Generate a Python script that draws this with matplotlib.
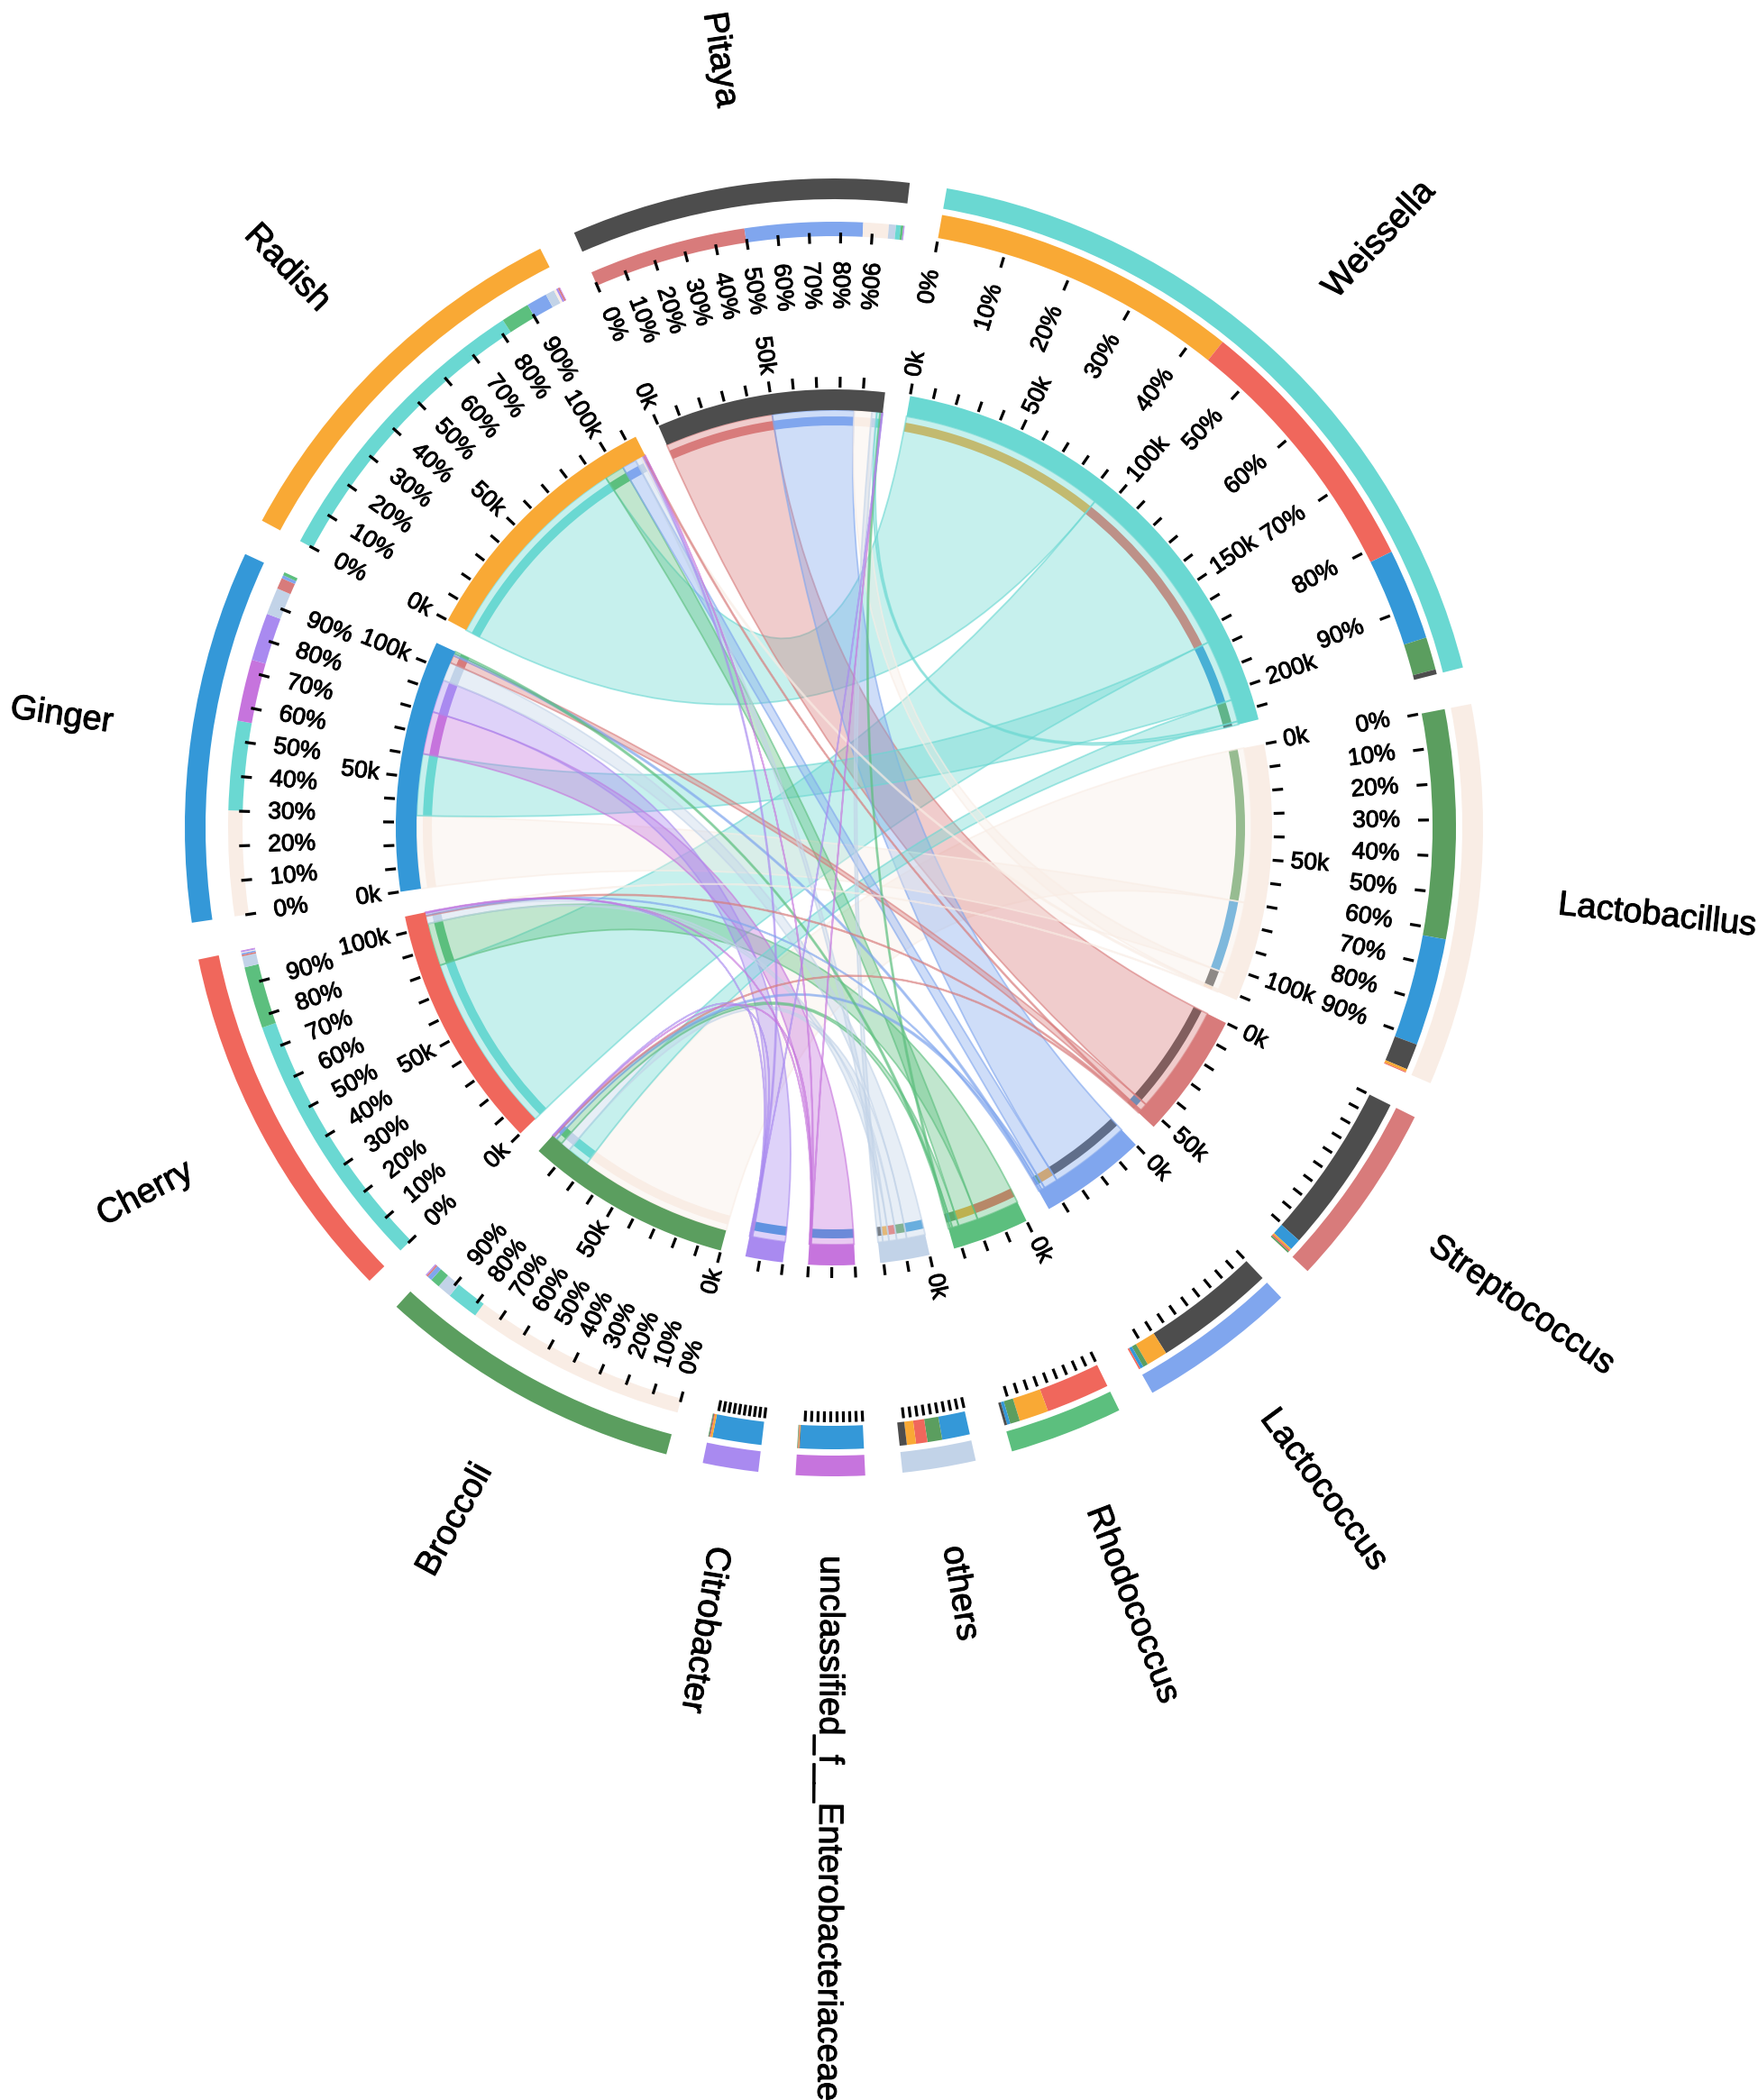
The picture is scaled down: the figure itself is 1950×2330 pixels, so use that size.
import numpy as np
import matplotlib
matplotlib.use("Agg")
import matplotlib.pyplot as plt
from matplotlib.patches import Wedge, PathPatch
from matplotlib.path import Path
from matplotlib.colors import to_rgba
import matplotlib.patheffects as pe

plt.rcParams['font.family'] = ['Liberation Sans', 'DejaVu Sans']

# ---------------- data (reads, in thousands) ----------------
samples = ["Pitaya", "Radish", "Ginger", "Cherry", "Broccoli"]
genera = ["Weissella", "Lactobacillus", "Streptococcus", "Lactococcus",
          "Rhodococcus", "others", "unclassified_f__Enterobacteriaceae", "Citrobacter"]

#                 Weis  Lacb  Strep Lacc  Rhod  oth   uncl  Citro
pitaya_reads   = [1.5,  8.0,  49.5, 37.0, 0.8,  2.2,  0.2,  0.2]
radish_reads   = [94.0, 0.8,  0.5,  6.5,  9.0,  2.8,  0.2,  0.6]
ginger_reads   = [28.0, 33.0, 3.5,  1.0,  1.0,  8.5,  19.4, 15.0]
cherry_reads   = [82.0, 0.3,  0.5,  0.5,  19.5, 3.5,  0.2,  0.3]
broccoli_reads = [10.0, 70.0, 0.5,  1.5,  3.0,  4.5,  0.2,  0.2]

sample_colors = ["#4d4d4d", "#f9a935", "#3498d8", "#f0675c", "#5b9e5f"]
genus_colors = ["#6ad8d2", "#f9ede5", "#d87b7b", "#80a6ee",
                "#5cbf7e", "#c2d3e8", "#c674dd", "#a98af0"]

# clockwise order of the segments around the circle
circle_order = ["Pitaya"] + genera + ["Broccoli", "Cherry", "Ginger", "Radish"]

M = np.array([pitaya_reads, radish_reads, ginger_reads, cherry_reads, broccoli_reads])

# ---------------- layout ----------------
FIG_W, FIG_H = 1950, 2330
fig = plt.figure(figsize=(FIG_W / 100, FIG_H / 100), dpi=100)
ax = fig.add_axes([0, 0, 1, 1])
ax.set_xlim(0, FIG_W)
ax.set_ylim(0, FIG_H)
ax.set_aspect('equal')
ax.axis('off')

cx, cy = 925, FIG_H - 918
GAP = 3.3
START = 113.6

R_CHORD = 463
R_STRIP = (446, 456)
R_BAND = (463, 486)
R_KTICK = (488, 500)
R_KLAB = 508
R_PTICK = (648, 660)
R_PLAB = 628
R_PRING_S = (656, 672)
R_PRING_G = (664, 690)
R_OUTER = (697, 720)
R_NAME = 808

TICK_FS = 19
NAME_FS = 27.5
TXT_FX = [pe.withStroke(linewidth=0.7, foreground='black')]

nodes = {}
for i, s in enumerate(samples):
    parts = [(genera[j], M[i, j], genus_colors[j]) for j in range(len(genera))]
    nodes[s] = dict(color=sample_colors[i], parts=sorted(parts, key=lambda p: -p[1]), sample=True)
for j, g in enumerate(genera):
    parts = [(samples[i], M[i, j], sample_colors[i]) for i in range(len(samples))]
    nodes[g] = dict(color=genus_colors[j], parts=sorted(parts, key=lambda p: -p[1]), sample=False)

total_all = sum(sum(p[1] for p in nodes[n]['parts']) for n in circle_order)
dpk = (360 - GAP * len(circle_order)) / total_all

cur = START
for name in circle_order:
    n = nodes[name]
    n['total'] = sum(p[1] for p in n['parts'])
    n['a0'] = cur
    n['a1'] = cur - n['total'] * dpk
    pos = cur
    n['sub'] = {}
    for pname, v, col in n['parts']:
        n['sub'][pname] = (pos, pos - v * dpk, col)
        pos -= v * dpk
    cur = n['a1'] - GAP


def pol(r, a):
    t = np.deg2rad(a)
    return (cx + r * np.cos(t), cy + r * np.sin(t))


def arc_pts(r, a0, a1, n=80):
    return [pol(r, t) for t in np.linspace(a0, a1, n)]


def chord_path(s0, s1, t0, t1, r):
    verts, codes = [], []
    pts = arc_pts(r, s0, s1)
    verts += pts
    codes += [Path.MOVETO] + [Path.LINETO] * (len(pts) - 1)
    verts += [(cx, cy), pol(r, t0)]
    codes += [Path.CURVE3, Path.CURVE3]
    pts = arc_pts(r, t0, t1)
    verts += pts[1:]
    codes += [Path.LINETO] * (len(pts) - 1)
    verts += [(cx, cy), pol(r, s0)]
    codes += [Path.CURVE3, Path.CURVE3]
    verts.append(pol(r, s0))
    codes.append(Path.CLOSEPOLY)
    return Path(verts, codes)


def ring(r_in, r_out, a_start, a_end, color, alpha=1.0, z=3):
    ax.add_patch(Wedge((cx, cy), r_out, a_end, a_start, width=r_out - r_in,
                       facecolor=color, edgecolor='none', alpha=alpha, zorder=z))


# ---------------- chords ----------------
chords = []
for i, s in enumerate(samples):
    for j, g in enumerate(genera):
        v = M[i, j]
        s0, s1, _ = nodes[s]['sub'][g]
        t0, t1, _ = nodes[g]['sub'][s]
        chords.append((v, s0, s1, t0, t1, genus_colors[j]))
for v, s0, s1, t0, t1, col in sorted(chords, key=lambda c: -c[0]):
    fc = to_rgba(col, 0.38)
    ec = to_rgba(col, 0.62)
    ax.add_patch(PathPatch(chord_path(s0, s1, t0, t1, R_CHORD), facecolor=fc,
                           edgecolor=ec, lw=1.3, zorder=1))

# ---------------- tracks ----------------
def flipped(n):
    mid = ((n['a0'] + n['a1']) / 2) % 360
    return 97 < mid < 260


for name in circle_order:
    n = nodes[name]
    a0, a1 = n['a0'], n['a1']
    flip = flipped(n)
    # inner band + partner strip (strip lies under the chords)
    ring(*R_BAND, a0, a1, n['color'], z=3)
    for pname, (s0, s1, col) in n['sub'].items():
        ring(*R_STRIP, s0, s1, col, z=0.5)
    # percentage ring
    rp = R_PRING_S if n['sample'] else R_PRING_G
    for pname, (s0, s1, col) in n['sub'].items():
        ring(*rp, s0, s1, col, z=3)
    # outer ring
    ring(*R_OUTER, a0, a1, n['color'], z=3)

    # k ticks
    k = 0.0
    while k <= n['total'] + 1e-9:
        a = a0 - k * dpk
        p1, p2 = pol(R_KTICK[0], a), pol(R_KTICK[1], a)
        ax.plot([p1[0], p2[0]], [p1[1], p2[1]], color='black', lw=2.3,
                solid_capstyle='butt', zorder=4)
        if n['total'] > 21 and abs(k % 50) < 1e-9:
            x, y = pol(R_KLAB, a)
            ax.text(x, y, f"{int(k)}k", fontsize=TICK_FS,
                    rotation=(a - 180) if flip else a,
                    ha='right' if flip else 'left', va='center',
                    rotation_mode='anchor', zorder=5, path_effects=TXT_FX)
        k += 10

    # percentage ticks
    for p in range(0, 100, 10):
        a = a0 - p / 100 * (a0 - a1)
        p1, p2 = pol(R_PTICK[0], a), pol(R_PTICK[1], a)
        ax.plot([p1[0], p2[0]], [p1[1], p2[1]], color='black', lw=2.3,
                solid_capstyle='butt', zorder=4)
        if n['total'] > 60:
            x, y = pol(R_PLAB, a)
            ax.text(x, y, f"{p}%", fontsize=TICK_FS,
                    rotation=(a - 180) if flip else a,
                    ha='left' if flip else 'right', va='center',
                    rotation_mode='anchor', zorder=5, path_effects=TXT_FX)

    # segment name
    mid = (a0 + a1) / 2
    x, y = pol(R_NAME, mid)
    ax.text(x, y, name, fontsize=NAME_FS,
            rotation=(mid - 180) if flip else mid,
            ha='right' if flip else 'left', va='center',
            rotation_mode='anchor', zorder=5, path_effects=TXT_FX)

fig.savefig("out.png", dpi=100, facecolor='white')
